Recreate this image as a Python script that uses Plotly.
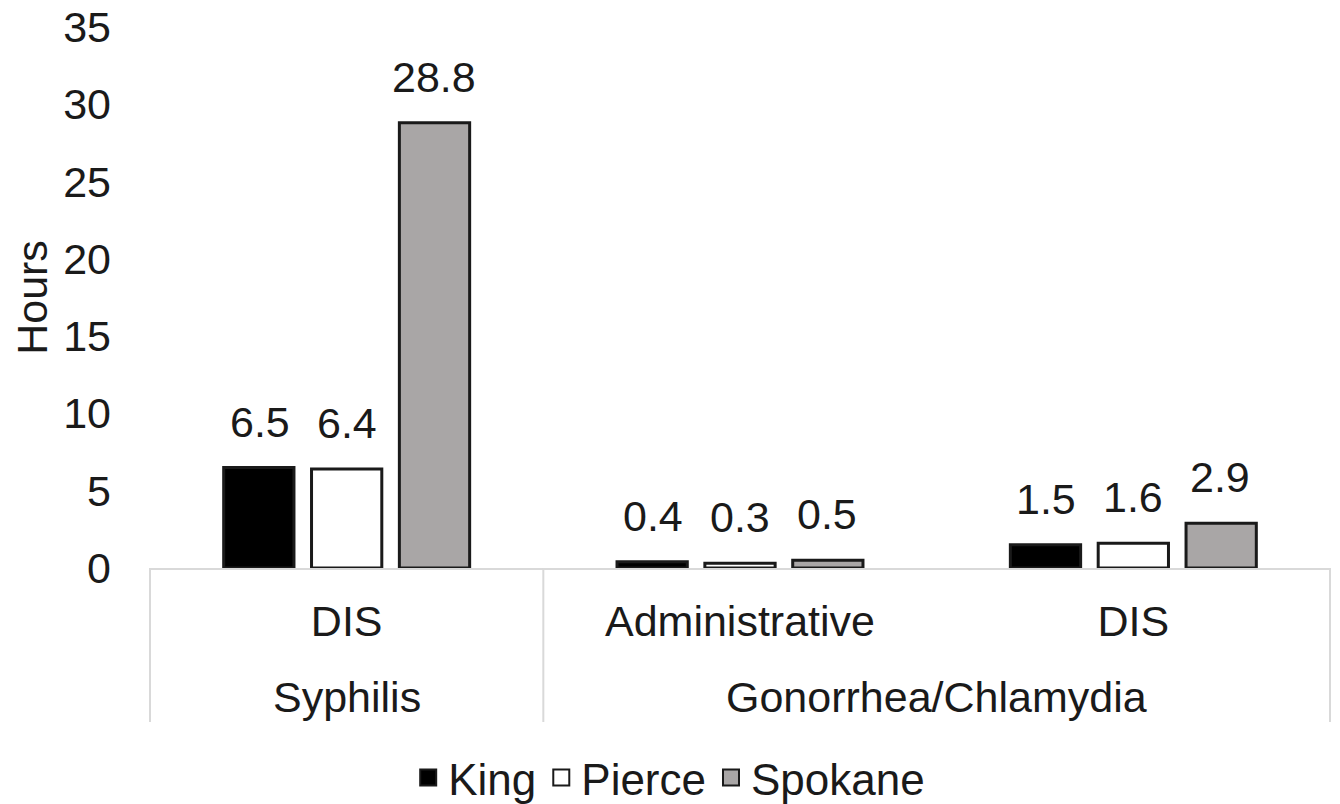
import plotly.graph_objects as go

outer = ["Syphilis", "Gonorrhea/Chlamydia", "Gonorrhea/Chlamydia"]
inner = ["DIS", "Administrative", "DIS"]
king = [6.5, 0.4, 1.5]
pierce = [6.4, 0.3, 1.6]
spokane = [28.8, 0.5, 2.9]
series_names = ["King", "Pierce", "Spokane"]
series_vals = [king, pierce, spokane]
colors = ["#000000", "#ffffff", "#a9a6a6"]
yticks = [0, 5, 10, 15, 20, 25, 30, 35]

FONT = "Liberation Sans, Arial, sans-serif"
FS = 43
TXT = "#1a1a1a"
keys = [f"{o}|{i}" for o, i in zip(outer, inner)]

fig = go.Figure()
for name, vals, col in zip(series_names, series_vals, colors):
    fig.add_trace(go.Bar(
        x=keys, y=vals, name=name, showlegend=False,
        marker=dict(color=col, line=dict(color="#1a1a1a", width=3)),
    ))
# legend proxies
for name, col in zip(series_names, colors):
    fig.add_trace(go.Scatter(
        x=[None], y=[None], mode="markers", name=name,
        marker=dict(symbol="square", size=23, color=col, line=dict(color="#1a1a1a", width=2)),
    ))

# value labels
offsets = [-87, 0, 87]
for off, vals in zip(offsets, series_vals):
    for k, v in zip(keys, vals):
        fig.add_annotation(x=k, y=v, xref="x", yref="y", text=f"{v:.1f}", showarrow=False,
                           xshift=off, yshift=20, yanchor="bottom",
                           font=dict(size=FS, family=FONT, color=TXT))

# outer category labels and dividers
plot_h = 541.0
groups = []
for idx, o in enumerate(outer):
    if groups and groups[-1][0] == o:
        groups[-1][2] = idx
    else:
        groups.append([o, idx, idx])
n = len(outer)
div_bottom = -154 / plot_h
for o, a, b in groups:
    fig.add_annotation(x=(a + b + 1) / 2 / n, y=-129 / plot_h, xref="paper", yref="paper",
                       text=o, showarrow=False, xanchor="center", yanchor="middle",
                       font=dict(size=FS, family=FONT, color=TXT))
bounds = sorted(set([0] + [g[2] + 1 for g in groups]))
for bnd in bounds:
    fig.add_shape(type="line", xref="paper", yref="paper", x0=bnd / n, x1=bnd / n,
                  y0=0, y1=div_bottom, line=dict(color="#d9d9d9", width=2))

fig.update_layout(
    width=1340, height=804,
    margin=dict(l=142, r=18, t=19, b=244, autoexpand=False),
    paper_bgcolor="white", plot_bgcolor="white",
    barmode="group", bargap=0.33, bargroupgap=0.2,
    font=dict(family=FONT, size=FS, color=TXT),
    showlegend=True,
    legend=dict(orientation="h", x=0.44, xanchor="center", y=-210 / plot_h, yanchor="middle",
                font=dict(size=44, family=FONT, color=TXT), itemwidth=30, traceorder="normal"),
)
fig.update_xaxes(type="category", tickvals=keys, ticktext=inner, showline=True, linecolor="#d9d9d9",
                 linewidth=2, ticks="", ticklabelstandoff=14, automargin=False,
                 tickfont=dict(size=FS, family=FONT, color=TXT))
fig.update_yaxes(range=[0, 35], tickvals=yticks, showgrid=False, zeroline=False,
                 showline=False, tickfont=dict(size=FS, family=FONT, color=TXT),
                 ticks="", ticklabelstandoff=38, automargin=False, ticklabeloverflow="allow",
                 title=dict(text="Hours", font=dict(size=FS, family=FONT, color=TXT), standoff=14))
fig.write_html("out.html")
